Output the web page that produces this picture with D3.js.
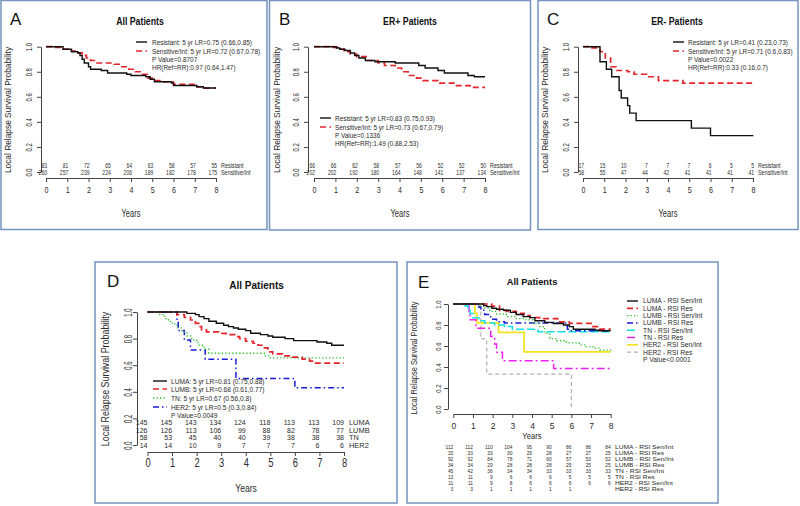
<!DOCTYPE html>
<html><head><meta charset="utf-8">
<script src="https://cdn.jsdelivr.net/npm/d3@7"></script>
<style>body{margin:0;background:#fff}svg{display:block}text{font-family:"Liberation Sans",Arial,sans-serif}</style>
</head><body><svg id="c" width="800" height="506"></svg>
<script>
// ---------- shared ticks ----------
const yearTicks=[0,1,2,3,4,5,6,7,8];
const survTicks=[0,0.2,0.4,0.6,0.8,1];

// ---------- Panel A : All patients ----------
const aResistant=[[0,1],[0.8,0.98],[1.2,0.96],[1.5,0.95],[1.6,0.93],[1.7,0.9],[1.8,0.87],[2.0,0.84],[2.1,0.82],[2.6,0.81],[2.9,0.79],[3.8,0.78],[4.0,0.77],[4.7,0.76],[4.9,0.74],[5.1,0.72],[5.9,0.71],[6.0,0.69],[7.1,0.68],[7.4,0.67],[8,0.67]];
const aSensitive=[[0,1],[0.3,0.995],[0.8,0.98],[1.2,0.965],[1.5,0.95],[1.7,0.93],[1.9,0.91],[2.1,0.89],[2.4,0.87],[3.2,0.86],[3.5,0.84],[3.9,0.82],[4.2,0.80],[4.5,0.78],[4.8,0.75],[5.0,0.73],[5.5,0.72],[6.0,0.70],[7.1,0.68],[7.3,0.67],[8,0.67]];
const aRiskResistant=[83,81,72,65,64,63,58,57,55];
const aRiskSensitive=[260,257,239,224,206,189,182,178,175];
const aLegend=["Resistant: 5 yr LR=0.75 (0.66,0.85)","Sensitive/Int: 5 yr LR=0.72 (0.67,0.78)","P Value=0.8707","HR(Ref=RR):0.97 (0.64,1.47)"];

// ---------- Panel B : ER+ ----------
const bResistant=[[0,1],[1.05,0.99],[1.2,0.98],[1.45,0.97],[1.7,0.95],[1.9,0.93],[2.1,0.91],[2.4,0.89],[2.85,0.88],[3.8,0.87],[4.9,0.85],[5.2,0.83],[5.8,0.81],[6.1,0.79],[7.2,0.77],[7.5,0.76],[8,0.76]];
const bSensitive=[[0,1],[0.9,0.995],[1.1,0.98],[1.4,0.96],[1.7,0.94],[2.0,0.92],[2.5,0.89],[3.0,0.87],[3.3,0.85],[3.8,0.83],[4.1,0.80],[4.4,0.77],[4.8,0.75],[5.1,0.73],[5.8,0.71],[6.6,0.69],[7.3,0.675],[8,0.675]];
const bRiskResistant=[66,66,62,58,57,56,52,52,50];
const bRiskSensitive=[202,202,192,180,164,148,141,137,134];
const bLegend=["Resistant: 5 yr LR=0.83 (0.75,0.93)","Sensitive/Int: 5 yr LR=0.73 (0.67,0.79)","P Value=0.1336","HR(Ref=RR):1.49 (0.88,2.53)"];

// ---------- Panel C : ER- ----------
const cResistant=[[0,1],[0.8,0.88],[1.1,0.82],[1.35,0.76],[1.7,0.65],[1.8,0.59],[2.1,0.53],[2.2,0.47],[2.5,0.41],[5.1,0.35],[6.0,0.29],[8.02,0.29]];
const cSensitive=[[0,1],[0.25,0.99],[0.8,0.96],[1.05,0.91],[1.3,0.84],[1.55,0.81],[2.1,0.80],[2.4,0.78],[3.0,0.76],[3.55,0.73],[4.7,0.71],[8,0.71]];
const cRiskResistant=[17,15,10,7,7,7,6,5,5];
const cRiskSensitive=[58,55,47,44,42,41,41,41,41];
const cLegend=["Resistant: 5 yr LR=0.41 (0.23,0.73)","Sensitive/Int: 5 yr LR=0.71 (0.6,0.83)","P Value=0.0022","HR(Ref=RR):0.33 (0.16,0.7)"];

const riskLabelsABC=["Resistant","Sensitive/Int"];

// ---------- Panel D : subtypes ----------
const dLuma=[[0,1],[1.6,0.99],[1.95,0.98],[2.1,0.965],[2.3,0.95],[2.5,0.93],[2.8,0.915],[3.1,0.9],[3.3,0.89],[3.5,0.88],[3.7,0.87],[4.0,0.86],[4.2,0.84],[4.6,0.83],[4.9,0.82],[5.1,0.81],[5.6,0.80],[5.95,0.785],[6.9,0.775],[7.3,0.765],[7.5,0.75],[8,0.75]];
const dLumb=[[0,1],[1.2,0.98],[1.5,0.96],[1.75,0.94],[1.95,0.915],[2.1,0.89],[2.2,0.865],[2.4,0.85],[2.9,0.84],[3.2,0.83],[3.55,0.815],[3.75,0.80],[4.0,0.78],[4.3,0.765],[4.5,0.75],[4.7,0.73],[4.9,0.70],[5.1,0.685],[5.5,0.67],[5.9,0.66],[6.3,0.645],[6.6,0.63],[6.8,0.615],[8,0.615]];
const dTn=[[0,1],[0.5,0.98],[0.7,0.95],[0.85,0.93],[1.0,0.91],[1.2,0.88],[1.4,0.85],[1.6,0.82],[1.8,0.79],[2.0,0.77],[2.1,0.75],[2.3,0.72],[2.5,0.69],[4.8,0.67],[5.0,0.655],[8,0.655]];
const dHer2=[[0,1],[1.2,0.93],[1.25,0.86],[1.5,0.79],[1.75,0.715],[2.35,0.645],[3.6,0.5],[6.0,0.43],[8,0.43]];
const dRiskLuma=[145,145,143,134,124,118,113,113,109];
const dRiskLumb=[126,126,113,106,99,88,82,78,77];
const dRiskTn=[58,53,45,40,40,39,38,38,38];
const dRiskHer2=[14,14,10,9,7,7,7,6,6];
const dRiskLabels=["LUMA","LUMB","TN","HER2"];
const dLegend=["LUMA: 5 yr LR=0.81 (0.75,0.88)","LUMB: 5 yr LR=0.68 (0.61,0.77)","TN: 5 yr LR=0.67 (0.56,0.8)","HER2: 5 yr LR=0.5 (0.3,0.84)","P Value=0.0049"];

// ---------- Panel E : subtypes x RSI ----------
const eLumaSen=[[0,1],[1.55,0.985],[1.7,0.975],[1.96,0.96],[2.2,0.95],[2.55,0.94],[2.9,0.92],[3.2,0.90],[3.55,0.88],[3.9,0.87],[4.15,0.84],[4.65,0.825],[5.1,0.815],[5.6,0.80],[5.9,0.785],[6.1,0.76],[7.2,0.75],[7.45,0.745],[8,0.745]];
const eLumaRes=[[0,1],[1.95,0.98],[2.35,0.94],[2.7,0.93],[3.2,0.91],[3.6,0.89],[3.9,0.87],[4.6,0.86],[5.3,0.83],[5.9,0.815],[7.1,0.785],[7.45,0.76],[8,0.76]];
const eLumbSen=[[0,1],[1.3,0.98],[1.6,0.96],[1.85,0.93],[2.2,0.905],[2.7,0.88],[3.2,0.86],[3.7,0.85],[4.05,0.815],[4.4,0.785],[4.65,0.72],[4.9,0.67],[5.25,0.65],[5.75,0.63],[6.4,0.61],[6.75,0.595],[7.1,0.58],[7.45,0.56],[8,0.555]];
const eLumbRes=[[0,1],[1.3,0.97],[1.4,0.94],[1.6,0.90],[1.9,0.855],[2.2,0.83],[2.6,0.82],[5.7,0.79],[5.8,0.76],[6.0,0.745],[8,0.745]];
const eTnSen=[[0,1],[0.6,0.98],[0.75,0.95],[0.85,0.91],[1.0,0.87],[1.3,0.84],[1.6,0.82],[2.1,0.80],[2.6,0.785],[3.0,0.76],[4.3,0.735],[8,0.735]];
const eTnRes=[[0,1],[0.8,0.92],[0.85,0.85],[1.15,0.77],[1.9,0.69],[2.1,0.62],[2.2,0.54],[2.5,0.46],[5.1,0.385],[8,0.385]];
const eHer2Sen=[[0,1],[1.1,0.91],[1.2,0.82],[2.3,0.73],[3.6,0.545],[8,0.545]];
const eHer2Res=[[0,1],[1.4,0.667],[1.7,0.333],[6.0,0]];
const eRiskLumaSen=[112,112,110,104,95,90,86,86,84];
const eRiskLumaRes=[33,33,33,30,29,28,27,27,25];
const eRiskLumbSen=[92,92,84,78,71,60,57,53,52];
const eRiskLumbRes=[34,34,29,28,28,28,25,25,25];
const eRiskTnSen=[45,42,36,34,34,33,33,33,33];
const eRiskTnRes=[13,11,9,6,6,6,5,5,5];
const eRiskHer2Sen=[11,11,9,8,6,6,6,6,6];
const eRiskHer2Res=[3,3,1,1,1,1,1,null,null];
const eGroups=["LUMA - RSI Sen/Int","LUMA - RSI Res","LUMB - RSI Sen/Int","LUMB - RSI Res","TN - RSI Sen/Int","TN - RSI Res","HER2 - RSI Sen/Int","HER2 - RSI Res"];
const ePValue="P Value<0.0001";

// ---------- styles ----------
const STY={
  black:{stroke:"#111",w:1.4,dash:null},
  red:{stroke:"#e3242b",w:1.7,dash:"6,3.5"},
  green:{stroke:"#2fbf2f",w:1.3,dash:"1.3,2.2"},
  blue:{stroke:"#1c1cd8",w:1.5,dash:"6,3,1.5,3"},
  cyan:{stroke:"#12dfea",w:1.5,dash:"8,3"},
  magenta:{stroke:"#ee22ee",w:1.5,dash:"8,3,2,3"},
  yellow:{stroke:"#f2e41c",w:1.7,dash:null},
  grey:{stroke:"#b0b0b0",w:1.2,dash:"4,3"}
};

const svg=d3.select("#c");
svg.append("rect").attr("width",800).attr("height",506).attr("fill","#fff");

function T(g,x,y,s,o){
  return g.append("text")
    .attr("transform",`translate(${x},${y})`+(o.rot?` rotate(${o.rot})`:"")+` scale(${o.cx||1},1)`)
    .attr("text-anchor",o.anchor||"start")
    .attr("dy","0.35em")
    .attr("font-size",o.size)
    .attr("font-weight",o.weight||null)
    .attr("fill",o.fill||"#2a2a2a")
    .text(s);
}
function styleLine(sel,st){
  sel.attr("fill","none").attr("stroke",st.stroke).attr("stroke-width",st.w)
     .attr("stroke-dasharray",st.dash);
}

const fontABC={tick:{size:9.5,cx:0.75,pad:4.6},ytick:{size:9,cx:0.66,off:12},years:{size:10,cx:0.75},
  ylab:{size:9.5,cx:0.88},title:{size:10.2,cx:0.86},legend:{size:7.3,cx:0.88},risk:{size:7,cx:0.72},riskLab:{size:6.8,cx:0.8}};

const panels=[
 {letter:"A",box:[1,0.5,266,229],letterXY:[10,19],title:"All Patients",titleXY:[140,21],font:fontABC,
  xr:[46,216],yr:[172,46.7],yAxisX:41,xAxisY:178,yearsXY:[131,213],ylabXY:[8,110],
  curves:[[aResistant,"black"],[aSensitive,"red"]],
  legend:{lx:[136,147],tx:152,rows:[42,51,59,67],texts:aLegend,styles:["black","red"]},
  risk:{rows:[166,172.5],labelX:221,values:[aRiskResistant,aRiskSensitive],labels:riskLabelsABC,dx:1}},
 {letter:"B",box:[269.5,0.5,261,229.5],letterXY:[279,19],title:"ER+ Patients",titleXY:[410,21],font:fontABC,
  xr:[314,485],yr:[172,46.7],yAxisX:308,xAxisY:178,yearsXY:[400,213],ylabXY:[277,110],
  curves:[[bResistant,"black"],[bSensitive,"red"]],
  legend:{lx:[320,331],tx:335,rows:[118,127,135,143],texts:bLegend,styles:["black","red"]},
  risk:{rows:[166,172.5],labelX:490,values:[bRiskResistant,bRiskSensitive],labels:riskLabelsABC,dx:1}},
 {letter:"C",box:[538,0.5,260,229],letterXY:[547,19],title:"ER- Patients",titleXY:[677,21],font:fontABC,
  xr:[583,753],yr:[172,46.7],yAxisX:578,xAxisY:178,yearsXY:[668,213],ylabXY:[545,110],
  curves:[[cResistant,"black"],[cSensitive,"red"]],
  legend:{lx:[673,684],tx:688,rows:[42,51,59,67],texts:cLegend,styles:["black","red"]},
  risk:{rows:[166,172.5],labelX:758,values:[cRiskResistant,cRiskSensitive],labels:riskLabelsABC,dx:1}},
 {letter:"D",box:[95,262,302,241],letterXY:[107,281],title:"All Patients",titleXY:[256.5,285],
  font:{tick:{size:12.5,cx:0.75,pad:2.6},ytick:{size:10,cx:0.6,off:9},years:{size:11,cx:0.78},
    ylab:{size:10,cx:0.89},title:{size:10.7,cx:0.94},legend:{size:7.5,cx:0.88},risk:{size:7,cx:1.0},riskLab:{size:7,cx:1.06}},
  xr:[147.5,344],yr:[445,312],yAxisX:137,xAxisY:452,yearsXY:[246,488],ylabXY:[105,379],
  curves:[[dLuma,"black"],[dLumb,"red"],[dTn,"green"],[dHer2,"blue"]],
  legend:{lx:[153,167],tx:171,rows:[381,389,398,407,415],texts:dLegend,styles:["black","red","green","blue"]},
  risk:{rows:[423,430.5,438,445.5],labelX:349,values:[dRiskLuma,dRiskLumb,dRiskTn,dRiskHer2],labels:dRiskLabels,dx:0}},
 {letter:"E",box:[407,262,311,241],letterXY:[418,282],title:"All Patients",titleXY:[532,282],
  font:{tick:{size:8.5,cx:1,pad:5},ytick:{size:7.5,cx:0.8,off:10},years:{size:8.8,cx:0.87},
    ylab:{size:8.5,cx:0.88},title:{size:9.3,cx:1},legend:{size:7,cx:0.97},risk:{size:6.2,cx:0.78},riskLab:{size:6.2,cx:1.08}},
  xr:[453.3,610.7],yr:[409,304],yAxisX:448,xAxisY:414,yearsXY:[532,436],ylabXY:[414,358],
  curves:[[eLumaSen,"black"],[eLumaRes,"red"],[eLumbSen,"green"],[eLumbRes,"blue"],[eTnSen,"cyan"],[eTnRes,"magenta"],[eHer2Sen,"yellow"],[eHer2Res,"grey"]],
  legend:{lx:[627,638],tx:643,rows:d3.range(9).map(i=>301+7.3*i),texts:eGroups.concat([ePValue]),
    styles:["black","red","green","blue","cyan","magenta","yellow","grey"]},
  risk:{rows:d3.range(8).map(i=>447+6*i),labelX:615,
    values:[eRiskLumaSen,eRiskLumaRes,eRiskLumbSen,eRiskLumbRes,eRiskTnSen,eRiskTnRes,eRiskHer2Sen,eRiskHer2Res],labels:eGroups,dx:0}}
];

panels.forEach(p=>{
  const g=svg.append("g");
  const f=p.font;
  g.append("rect").attr("x",p.box[0]).attr("y",p.box[1]).attr("width",p.box[2]).attr("height",p.box[3])
   .attr("fill","none").attr("stroke","#7593bd").attr("stroke-width",1.5);
  const x=d3.scaleLinear().domain([0,8]).range(p.xr);
  const y=d3.scaleLinear().domain([0,1]).range(p.yr);

  // letter + title
  T(g,p.letterXY[0],p.letterXY[1],p.letter,{size:17,fill:"#111"});
  T(g,p.titleXY[0],p.titleXY[1],p.title,{size:f.title.size,cx:f.title.cx,anchor:"middle",weight:"bold",fill:"#111"});

  // x axis
  const xa=g.append("g").attr("transform",`translate(0,${p.xAxisY})`)
    .call(d3.axisBottom(x).tickValues(yearTicks).tickSize(4).tickSizeOuter(0).tickPadding(f.tick.pad).tickFormat(d3.format("d")));
  xa.select(".domain").attr("stroke","#444");
  xa.selectAll(".tick line").attr("stroke","#444");
  xa.selectAll("text").attr("font-size",f.tick.size).attr("fill","#2a2a2a").attr("font-family","Liberation Sans, Arial, sans-serif")
    .attr("transform",`scale(${f.tick.cx},1)`);

  // y axis
  const ya=g.append("g").attr("transform",`translate(${p.yAxisX},0)`)
    .call(d3.axisLeft(y).tickValues(survTicks).tickSize(4).tickSizeOuter(0).tickFormat(d3.format(".1f")));
  ya.select(".domain").attr("stroke","#444");
  ya.selectAll(".tick line").attr("stroke","#444");
  ya.selectAll("text").attr("x",null).attr("dy","0.35em").attr("text-anchor","middle")
    .attr("font-size",f.ytick.size).attr("fill","#2a2a2a").attr("font-family","Liberation Sans, Arial, sans-serif")
    .attr("transform",`translate(${-f.ytick.off},0) rotate(-90) scale(${f.ytick.cx},1)`);

  T(g,p.yearsXY[0],p.yearsXY[1],"Years",{size:f.years.size,cx:f.years.cx,anchor:"middle"});
  T(g,p.ylabXY[0],p.ylabXY[1],"Local Relapse Survival Probability",{size:f.ylab.size,cx:f.ylab.cx,anchor:"middle",rot:-90});

  // curves
  const line=d3.line().x(d=>x(d[0])).y(d=>y(d[1])).curve(d3.curveStepAfter);
  p.curves.slice().reverse().forEach(([data,s])=>{
    g.append("path").datum(data).attr("d",line).call(styleLine,STY[s]);
  });

  // legend
  const L=p.legend;
  L.texts.forEach((t,i)=>{
    if(i<L.styles.length){
      g.append("line").attr("x1",L.lx[0]).attr("x2",L.lx[1]).attr("y1",L.rows[i]).attr("y2",L.rows[i]).call(styleLine,STY[L.styles[i]]);
    }
    T(g,L.tx,L.rows[i],t,{size:f.legend.size,cx:f.legend.cx});
  });

  // risk table
  const R=p.risk;
  R.values.forEach((vals,r)=>{
    vals.forEach((v,i)=>{
      if(v!=null) T(g,x(yearTicks[i])+R.dx,R.rows[r],v,{size:f.risk.size,cx:f.risk.cx,anchor:"end"});
    });
    T(g,R.labelX,R.rows[r],R.labels[r],{size:f.riskLab.size,cx:f.riskLab.cx});
  });
});
</script></body></html>
